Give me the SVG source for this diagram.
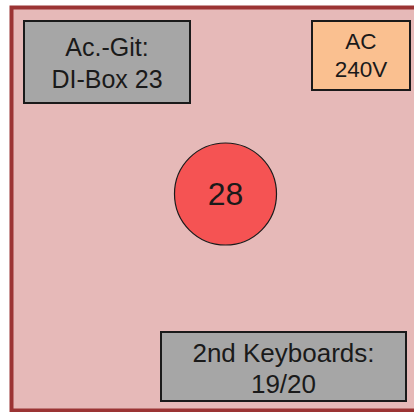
<svg xmlns="http://www.w3.org/2000/svg" width="414" height="412" viewBox="0 0 414 412">
  <style>
    text { font-family: "Liberation Sans", Arial, sans-serif; fill: #1a1a1a; text-anchor: middle; }
    .box { stroke: #1a1a1a; stroke-width: 2; }
    .gray { fill: #a6a6a6; }
    .orange { fill: #fac090; }
  </style>
  <rect id="stage" x="11.5" y="7.5" width="420" height="403" fill="#e6b9b8" stroke="#9b3434" stroke-width="4"/>
  <g id="acgit">
    <rect class="box gray" x="24" y="21" width="166" height="82"/>
    <text x="107" y="56" font-size="25">Ac.-Git:</text>
    <text x="107" y="88" font-size="25">DI-Box 23</text>
  </g>
  <g id="ac240">
    <rect class="box orange" x="312" y="21" width="98" height="69"/>
    <text x="361" y="49" font-size="22.5">AC</text>
    <text x="361" y="77" font-size="22.5">240V</text>
  </g>
  <g id="n28">
    <circle cx="225.5" cy="194" r="51" fill="#f55353" stroke="#1a1a1a" stroke-width="1.2"/>
    <text x="225.5" y="205" font-size="32">28</text>
  </g>
  <g id="keyboards">
    <rect class="box gray" x="161" y="332" width="245" height="69"/>
    <text x="283.5" y="362" font-size="26">2nd Keyboards:</text>
    <text x="283.5" y="393" font-size="26">19/20</text>
  </g>
  <g id="connectors"></g>
</svg>
